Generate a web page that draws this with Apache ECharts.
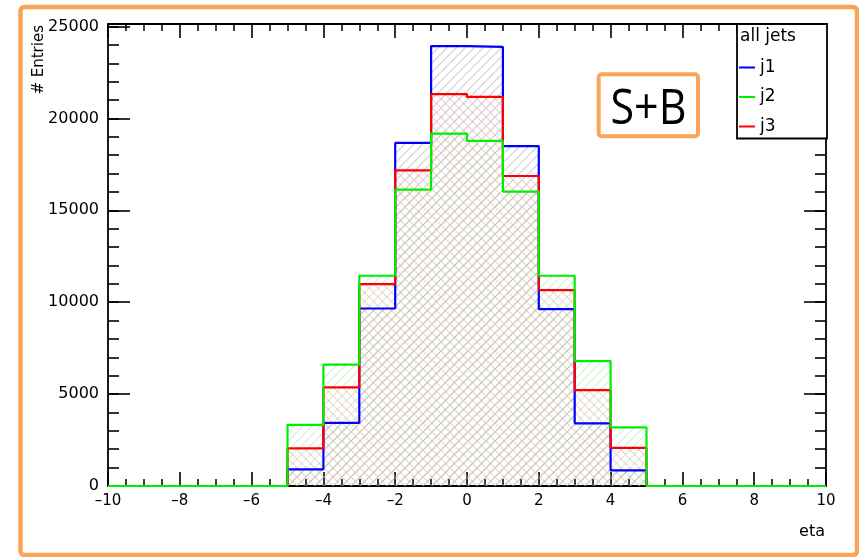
<!DOCTYPE html>
<html>
<head>
<meta charset="utf-8">
<script src="https://cdn.jsdelivr.net/npm/echarts@6/dist/echarts.min.js"></script>
<style>
  html, body { margin: 0; padding: 0; background: #fff; }
  #chart { width: 859px; height: 557px; }
</style>
</head>
<body>
<div id="chart"></div>
<script>
// eta binning: 20 unit-width bins from -10 to 10
const binEdges = [-10, -9, -8, -7, -6, -5, -4, -3, -2, -1, 0, 1, 2, 3, 4, 5, 6, 7, 8, 9, 10];

// entries per bin for the three leading jets
const j1Counts = [0, 0, 0, 0, 0, 910, 3430, 9660, 18670, 23940, 23890, 18490, 9630, 3410, 850, 0, 0, 0, 0, 0];
const j2Counts = [0, 0, 0, 0, 0, 3330, 6600, 11440, 16130, 19180, 18780, 16020, 11440, 6800, 3190, 0, 0, 0, 0, 0];
const j3Counts = [0, 0, 0, 0, 0, 2050, 5370, 10980, 17180, 21320, 21170, 16870, 10660, 5220, 2070, 0, 0, 0, 0, 0];

// axis ranges
const etaRange = [-10, 10];
const entriesMax = 25140;

// step outline points: one at each bin's low edge, plus the final upper edge
function histPoints(counts) {
  const pts = counts.map((v, i) => [binEdges[i], v]);
  pts.push([binEdges[binEdges.length - 1], counts[counts.length - 1]]);
  return pts;
}

// transparent hatch fill, '/' or '\'
function hatch(color, dir) {
  const s = 9;
  const c = document.createElement('canvas');
  c.width = s; c.height = s;
  const g = c.getContext('2d');
  g.strokeStyle = color;
  g.lineWidth = 1.2;
  g.beginPath();
  for (const k of [-s, 0, s]) {
    if (dir === '/') { g.moveTo(k, s); g.lineTo(k + s, 0); }
    else { g.moveTo(k, 0); g.lineTo(k + s, s); }
  }
  g.stroke();
  return { image: c, repeat: 'repeat' };
}

const FONT = 'DejaVu Sans';
const ORANGE = '#f8a656';

function xAxisCfg(pos, labels) {
  return {
    type: 'value', position: pos, min: etaRange[0], max: etaRange[1], interval: 2,
    axisLine: { show: true, onZero: false, lineStyle: { color: '#000', width: 1.8 } },
    axisTick: { show: true, inside: true, length: 14, lineStyle: { color: '#000', width: 1.6 } },
    minorTick: { show: true, splitNumber: 4, length: 7, lineStyle: { color: '#000', width: 1.5 } },
    axisLabel: {
      show: labels, margin: 8, color: '#000', fontFamily: FONT, fontSize: 15,
      formatter: v => (v < 0 ? '\u2013' + Math.abs(v) : String(v))
    },
    splitLine: { show: false }
  };
}

function yAxisCfg(pos, step, tickLen, line, labels) {
  return {
    type: 'value', position: pos, min: 0, max: entriesMax, interval: step,
    axisLine: { show: line, onZero: false, lineStyle: { color: '#000', width: 1.8 } },
    axisTick: { show: true, inside: true, length: tickLen, lineStyle: { color: '#000', width: 1.6 } },
    axisLabel: {
      show: labels, showMaxLabel: false, margin: 9, color: '#000', fontFamily: FONT, fontSize: 16,
      formatter: v => String(v)
    },
    splitLine: { show: false }
  };
}

function histSeries(name, counts, color, fill) {
  return {
    name, type: 'line', step: 'end', data: histPoints(counts),
    xAxisIndex: 0, yAxisIndex: 0,
    showSymbol: false, symbol: 'none',
    color: color,
    lineStyle: { color: color, width: 2.2 },
    areaStyle: { color: fill, opacity: 1, origin: 'start' },
    z: 2
  };
}

const chart = echarts.init(document.getElementById('chart'), null, { renderer: 'canvas' });
chart.setOption({
  animation: false,
  backgroundColor: '#fff',
  grid: { left: 108, right: 33, top: 24, bottom: 71, containLabel: false },
  xAxis: [xAxisCfg('bottom', true), xAxisCfg('top', false)],
  yAxis: [
    yAxisCfg('left', 5000, 22, true, true),
    yAxisCfg('left', 1000, 11, false, false),
    yAxisCfg('right', 5000, 22, true, false),
    yAxisCfg('right', 1000, 11, false, false)
  ],
  legend: {
    data: ['j1', 'j2', 'j3'],
    orient: 'vertical', left: 739, top: 59, padding: 0,
    icon: 'rect', itemWidth: 16, itemHeight: 2, itemGap: 12.5,
    textStyle: { fontFamily: FONT, fontSize: 17, color: '#000', lineHeight: 16 },
    selectedMode: false, z: 10
  },
  series: [
    histSeries('j1', j1Counts, '#0000ff', hatch('rgba(160,160,160,0.5)', '/')),
    histSeries('j3', j3Counts, '#ff0000', hatch('rgba(240,150,150,0.45)', '\\')),
    histSeries('j2', j2Counts, '#00ee00', hatch('rgba(150,210,150,0.4)', '/'))
  ],
  graphic: [
    // page frame
    { type: 'rect', z: 20, shape: { x: 20.5, y: 7, width: 836.5, height: 548, r: 4 },
      style: { fill: 'none', stroke: ORANGE, lineWidth: 4.5 } },
    // signal+background tag
    { type: 'rect', z: 20, shape: { x: 598.7, y: 74.3, width: 99.3, height: 62, r: 3 },
      style: { fill: '#fff', stroke: ORANGE, lineWidth: 4 } },
    { type: 'text', z: 21, x: 648.5, y: 110, scaleX: 0.86,
      style: { text: 'S+B', fontFamily: 'Open Sans', fontSize: 50, fill: '#000',
               textAlign: 'center', textVerticalAlign: 'middle' } },
    // legend box
    { type: 'rect', z: 5, shape: { x: 737, y: 24, width: 90, height: 114.5 },
      style: { fill: '#fff', stroke: '#000', lineWidth: 1.8 } },
    { type: 'text', z: 11, x: 740, y: 37,
      style: { text: 'all jets', fontFamily: FONT, fontSize: 17, fill: '#000',
               textAlign: 'left', textVerticalAlign: 'middle' } },
    // axis titles
    { type: 'text', z: 11, x: 39, y: 25, rotation: Math.PI / 2,
      style: { text: '# Entries', fontFamily: FONT, fontSize: 15, fill: '#000',
               textAlign: 'right', textVerticalAlign: 'middle' } },
    { type: 'text', z: 11, x: 825, y: 532,
      style: { text: 'eta', fontFamily: FONT, fontSize: 16, fill: '#000',
               textAlign: 'right', textVerticalAlign: 'middle' } }
  ]
});
</script>
</body>
</html>
